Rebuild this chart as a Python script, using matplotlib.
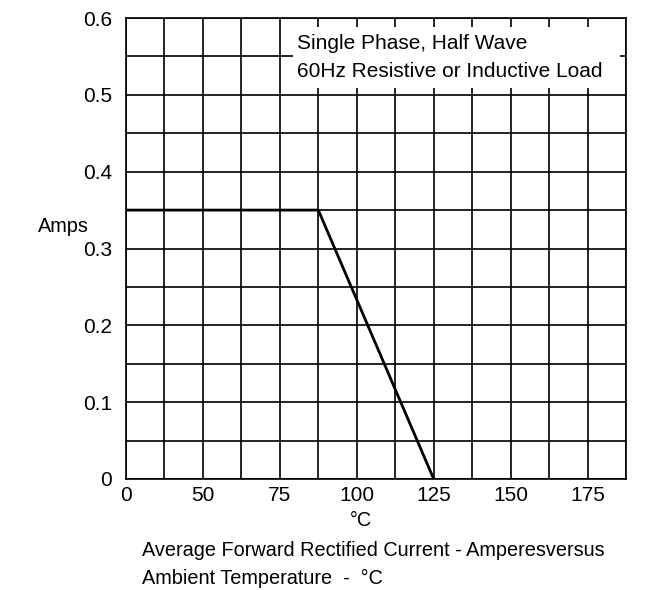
import matplotlib.pyplot as plt
from matplotlib.patches import Rectangle
import numpy as np

plt.rcParams['font.family'] = ['Liberation Sans', 'DejaVu Sans']

# derating curve (left edge of the grid is labelled "0", cells are 12.5 degC)
temp = [25, 87.5, 125]
amps = [0.35, 0.35, 0.0]

xtick_pos = [25, 50, 75, 100, 125, 150, 175]
xtick_lab = ["0", "50", "75", "100", "125", "150", "175"]
ytick_pos = [0, 0.1, 0.2, 0.3, 0.4, 0.5, 0.6]
ytick_lab = ["0", "0.1", "0.2", "0.3", "0.4", "0.5", "0.6"]

fs = 14.3
fs_tick = 15

fig = plt.figure(figsize=(6.47, 5.90), dpi=100)
ax = fig.add_axes([126 / 647, 1 - 479 / 590, 500 / 647, 461 / 590])

ax.set_xlim(25, 187.5)
ax.set_ylim(0, 0.6)
ax.xaxis.remove_overlapping_locs = False
ax.yaxis.remove_overlapping_locs = False
ax.set_xticks(np.arange(25, 187.6, 12.5), minor=True)
ax.set_yticks(np.arange(0, 0.61, 0.05), minor=True)
ax.grid(which='minor', color='black', linewidth=1.2)
ax.set_xticks(xtick_pos)
ax.set_xticklabels(xtick_lab)
ax.set_yticks(ytick_pos)
ax.set_yticklabels(ytick_lab)
ax.tick_params(which='both', length=0, labelsize=fs_tick)
ax.tick_params(axis='x', pad=5)
ax.tick_params(axis='y', pad=10)
for s in ax.spines.values():
    s.set_linewidth(1.2)

ax.plot(temp, amps, color='black', linewidth=2, zorder=5)

# white label box over the grid
ax.add_patch(Rectangle((0.334, 0.848), 0.654, 0.132, transform=ax.transAxes,
                       facecolor='white', edgecolor='none', zorder=6))
ax.text(0.342, 0.944, "Single Phase, Half Wave", transform=ax.transAxes,
        fontsize=15, va='center', ha='left', zorder=7)
ax.text(0.342, 0.885, "60Hz Resistive or Inductive Load", transform=ax.transAxes,
        fontsize=15, va='center', ha='left', zorder=7)

fig.text(38 / 647, 1 - 227 / 590, "Amps", fontsize=fs, va='center', ha='left')
fig.text(361 / 647, 1 - 520 / 590, "°C", fontsize=fs, va='center', ha='center')
fig.text(142 / 647, 1 - 551 / 590, "Average Forward Rectified Current - Amperesversus",
         fontsize=fs, va='center', ha='left')
fig.text(142 / 647, 1 - 578 / 590, "Ambient Temperature  -  °C",
         fontsize=fs, va='center', ha='left')

fig.savefig("out.png", dpi=100)
